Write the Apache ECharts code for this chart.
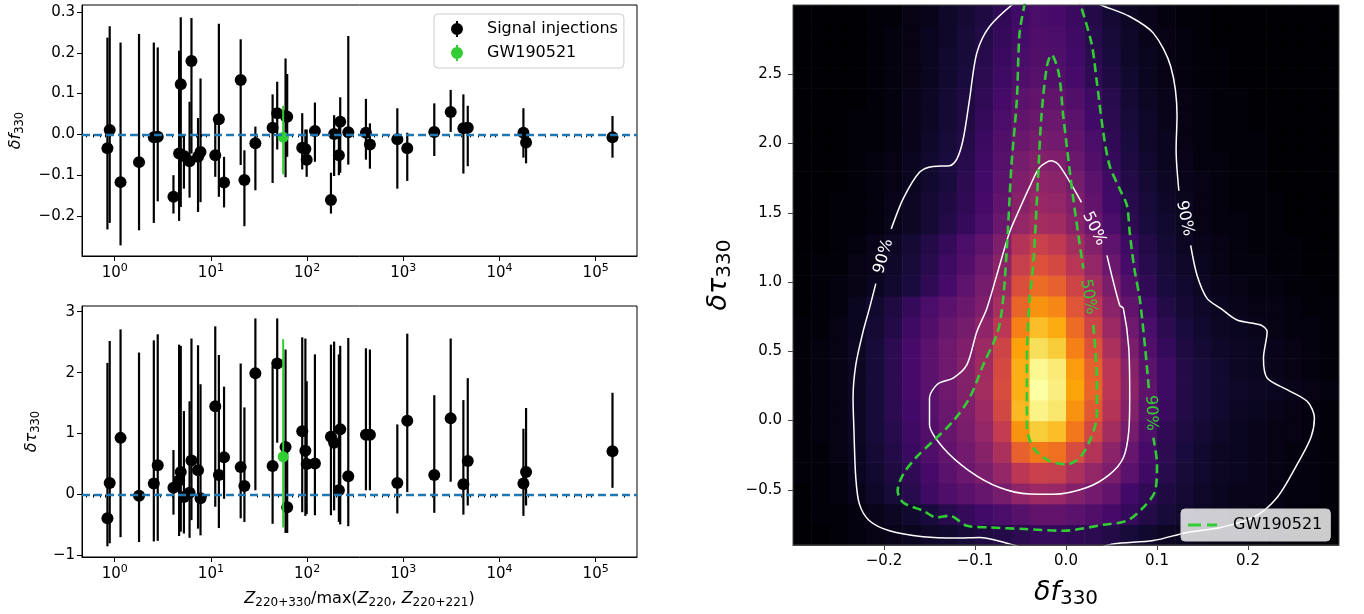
<!DOCTYPE html>
<html><head><meta charset="utf-8">
<script src="https://cdn.jsdelivr.net/npm/echarts@6/dist/echarts.min.js"></script>
<style>html,body{margin:0;padding:0;background:#fff}#c{width:1364px;height:614px}</style>
</head><body><div id="c"></div>
<script>
// ---------------- data: left panels ----------------
const zRatio = [0.84,0.887,1.15,1.79,2.55,2.80,4.08,4.67,4.86,5.24,6.0,6.28,7.35,7.8,11.1,12.1,13.7,20.4,22.3,29.0,43.8,48.9,59.7,62.1,89,96,99,120.6,177,191,214,221,268,409,450,867,1100,2100,3110,4215,4680,17740,18900,149600];
const dfVal = [-0.034,0.011,-0.117,-0.068,-0.007,-0.006,-0.153,-0.047,0.123,-0.053,-0.066,0.18,-0.055,-0.043,-0.051,0.037,-0.118,0.133,-0.112,-0.022,0.016,0.052,0.045,0.043,-0.033,-0.036,-0.062,0.008,-0.161,0.001,-0.051,0.031,0.005,0.004,-0.025,-0.012,-0.034,0.006,0.055,0.015,0.016,0.004,-0.020,-0.007];
const dfLo = [-0.233,-0.217,-0.272,-0.235,-0.217,-0.164,-0.194,-0.212,-0.178,-0.133,-0.155,-0.047,-0.19,-0.166,-0.104,-0.153,-0.179,-0.075,-0.225,-0.137,-0.119,-0.037,-0.105,-0.055,-0.086,-0.075,-0.104,-0.067,-0.194,-0.102,-0.10,-0.094,-0.074,-0.062,-0.084,-0.133,-0.114,-0.053,0.006,-0.096,-0.078,-0.057,-0.071,-0.057];
const dfHi = [0.237,0.265,0.225,0.246,0.225,0.213,-0.100,0.205,0.287,0.0,0.08,0.285,0.04,0.137,0.035,0.271,-0.055,0.233,-0.039,0.019,0.098,0.129,0.186,0.148,0.052,0.012,0.012,0.078,-0.094,0.047,0.03,0.091,0.241,0.087,0.027,0.064,0.004,0.076,0.109,0.098,0.07,0.064,0.002,0.045];
const dtVal = [-0.39,0.19,0.93,-0.02,0.18,0.48,0.11,0.23,0.37,-0.04,0.03,0.56,0.40,-0.06,1.45,0.32,0.61,0.45,0.14,1.99,0.47,2.15,0.78,-0.21,1.04,0.72,0.50,0.51,0.95,0.85,0.07,1.07,0.30,0.98,0.98,0.19,1.21,0.32,1.25,0.17,0.55,0.18,0.37,0.71];
const dtLo = [-0.85,-0.80,-0.70,-0.78,-0.77,-0.76,-0.33,-0.68,-0.61,-0.64,-0.71,-0.42,-0.56,-0.67,-0.20,-0.55,-0.07,-0.39,-0.45,0.07,-0.48,0.85,-0.63,-0.63,-0.29,-0.35,-0.32,-0.34,-0.34,-0.26,-0.45,-0.49,-0.52,0.07,0.07,-0.31,0.04,-0.30,0.21,-0.33,-0.18,-0.35,-0.18,0.11];
const dtHi = [2.16,2.52,2.71,2.33,2.53,2.63,0.73,2.46,2.44,1.37,1.53,2.56,2.45,1.81,2.76,2.29,1.77,2.15,1.43,2.89,2.11,2.89,2.38,0.86,2.58,2.56,1.86,2.30,2.46,2.51,2.30,2.44,2.57,2.40,2.38,1.15,2.64,1.63,2.56,1.55,1.91,1.08,1.42,1.67];
const gwZ = [56.4];
const gwDf = [-0.007], gwDfLo = [-0.098], gwDfHi = [0.070];
const gwDt = [0.62], gwDtLo = [-0.54], gwDtHi = [2.55];
const zTicks = [1, 10, 100, 1000, 10000, 100000];
const dfTicks = [-0.2, -0.1, 0, 0.1, 0.2, 0.3];
const dtTicks = [-1, 0, 1, 2, 3];
// ---------------- data: right panel ----------------
const fCenters = [-0.29,-0.27,-0.25,-0.23,-0.21,-0.19,-0.17,-0.15,-0.13,-0.11,-0.09,-0.07,-0.05,-0.03,-0.01,0.01,0.03,0.05,0.07,0.09,0.11,0.13,0.15,0.17,0.19,0.21,0.23,0.25,0.27,0.29];
const tauCenters = [-0.825,-0.675,-0.525,-0.375,-0.225,-0.075,0.075,0.225,0.375,0.525,0.675,0.825,0.975,1.125,1.275,1.425,1.575,1.725,1.875,2.025,2.175,2.325,2.475,2.625,2.775,2.925];
const density = [
 [0,0,1,2,3,4,5,7,8,10,12,13,15,17,17,16,15,13,10,8,6,5,4,3,3,2,2,1,1,0],
 [0,1,1,2,4,6,8,11,14,17,20,22,25,28,28,26,24,21,17,13,10,8,6,5,4,3,3,2,1,1],
 [0,1,2,4,7,10,14,19,23,26,29,33,39,42,41,36,32,28,20,16,12,9,7,5,4,4,3,2,2,1],
 [1,1,2,5,8,12,16,21,26,30,34,40,50,54,53,46,40,34,26,19,14,10,8,6,5,4,3,2,2,1],
 [1,1,3,5,9,13,18,23,28,32,37,46,64,70,68,58,48,38,29,21,15,11,8,6,5,4,3,2,2,1],
 [1,2,3,6,10,14,19,24,29,34,40,52,76,88,85,70,56,44,33,23,16,12,9,7,5,4,3,3,2,1],
 [1,2,3,6,10,15,20,25,30,35,42,56,84,97,94,76,62,48,36,25,18,13,10,8,6,5,4,3,2,1],
 [1,2,3,6,10,15,21,26,31,36,44,58,82,100,96,80,65,50,38,27,19,13,10,8,7,6,5,4,3,2],
 [1,2,3,6,10,15,21,26,31,36,43,57,82,98,95,78,64,50,37,26,19,13,10,8,6,5,4,3,2,1],
 [1,2,3,6,10,15,21,26,31,35,42,55,79,92,88,72,60,46,34,24,17,12,9,7,6,5,4,3,2,1],
 [1,1,3,5,9,13,19,24,29,33,39,50,72,85,81,67,55,42,31,22,15,11,8,6,5,4,3,2,2,1],
 [0,1,2,5,8,12,17,22,26,30,35,45,65,76,73,61,50,38,28,19,13,9,7,5,4,3,3,2,1,1],
 [0,1,2,3,5,8,11,16,21,27,33,42,59,67,64,55,44,34,24,16,11,8,6,4,3,2,2,1,1,0],
 [0,1,1,3,4,7,10,14,19,24,30,38,53,60,57,49,40,30,21,14,10,7,5,3,2,2,1,1,0,0],
 [0,0,1,2,4,6,9,13,17,22,27,35,48,54,51,44,36,27,19,13,9,6,4,3,2,1,1,1,0,0],
 [0,0,1,1,2,4,6,9,13,17,22,30,40,44,43,37,30,22,15,11,8,5,3,2,2,1,1,0,0,0],
 [0,0,1,1,2,4,6,9,12,16,21,28,37,41,40,35,28,20,14,10,7,5,3,2,1,1,1,0,0,0],
 [0,0,0,1,2,3,5,8,11,15,20,26,35,39,38,33,26,19,13,9,6,4,3,2,1,1,0,0,0,0],
 [0,0,0,1,2,3,5,8,11,14,19,25,33,36,35,30,24,17,12,8,5,4,2,2,1,1,0,0,0,0],
 [0,0,0,1,1,2,4,7,10,13,18,24,30,33,32,28,22,16,11,7,5,3,2,1,1,1,0,0,0,0],
 [0,0,0,1,1,2,4,6,9,12,17,22,28,30,30,26,20,15,10,7,4,3,2,1,1,0,0,0,0,0],
 [0,0,0,0,1,2,4,6,9,12,16,21,26,28,28,24,19,14,9,6,4,3,2,1,1,0,0,0,0,0],
 [0,0,0,0,1,2,3,5,8,11,15,19,23,25,24,21,16,12,8,5,3,2,1,1,0,0,0,0,0,0],
 [0,0,0,0,1,2,3,5,8,10,14,18,22,24,23,20,15,11,7,5,3,2,1,1,0,0,0,0,0,0],
 [0,0,0,0,1,2,3,5,7,10,13,17,21,23,22,19,14,10,7,4,3,2,1,0,0,0,0,0,0,0],
 [0,0,0,0,1,1,3,4,7,9,12,16,20,22,21,18,13,9,6,4,2,1,1,0,0,0,0,0,0,0]
];
const fTicks = [-0.2, -0.1, 0, 0.1, 0.2];
const tauTicks = [-0.5, 0, 0.5, 1, 1.5, 2, 2.5];
// contour paths [f, tau] (segments broken at labels)
const white90 = [
 [[-0.056,3.02],[-0.084,2.845],[-0.098,2.654],[-0.106,2.318],[-0.113,2.031],[-0.12,1.887],[-0.128,1.839],[-0.146,1.835],[-0.161,1.792],[-0.179,1.6],[-0.192,1.384]],
 [[-0.209,0.989],[-0.216,0.81],[-0.223,0.642],[-0.231,0.402],[-0.234,0.163],[-0.233,-0.076],[-0.231,-0.412],[-0.227,-0.603],[-0.216,-0.723],[-0.194,-0.795],[-0.157,-0.838],[-0.12,-0.848],[-0.095,-0.843],[-0.062,-0.89],[-0.03,-0.94],[0.02,-0.94],[0.052,-0.89],[0.096,-0.866],[0.133,-0.807],[0.17,-0.771],[0.206,-0.699],[0.232,-0.555],[0.254,-0.316],[0.269,-0.124],[0.273,0.019],[0.265,0.139],[0.243,0.223],[0.221,0.307],[0.217,0.45],[0.221,0.642],[0.214,0.69],[0.188,0.726],[0.17,0.81],[0.155,0.882],[0.144,1.049],[0.137,1.264]],
 [[0.124,1.659],[0.121,1.959],[0.122,2.198],[0.115,2.558],[0.096,2.797],[0.07,2.917],[0.041,2.993],[0.03,3.02]]
];
const white50 = [
 [[0.017,1.576],[-0.007,1.839],[-0.016,1.875],[-0.029,1.827],[-0.04,1.687],[-0.051,1.528],[-0.062,1.36],[-0.073,1.12],[-0.087,0.81],[-0.098,0.642],[-0.109,0.402],[-0.124,0.307],[-0.141,0.264],[-0.15,0.163],[-0.15,-0.029],[-0.135,-0.196],[-0.106,-0.364],[-0.073,-0.483],[-0.04,-0.53],[-0.014,-0.532],[0.023,-0.483],[0.048,-0.388],[0.063,-0.268],[0.069,-0.076],[0.07,0.163],[0.069,0.522],[0.063,0.81],[0.059,0.833],[0.045,1.193]]
];
const green90 = [
 [[-0.045,3.02],[-0.051,2.797],[-0.054,2.318],[-0.06,1.839],[-0.064,1.36],[-0.069,0.882],[-0.075,0.642],[-0.091,0.402],[-0.106,0.163],[-0.124,-0.004],[-0.146,-0.148],[-0.165,-0.268],[-0.179,-0.388],[-0.185,-0.507],[-0.179,-0.591],[-0.157,-0.651],[-0.142,-0.699],[-0.128,-0.687],[-0.109,-0.759],[-0.084,-0.771],[-0.045,-0.783],[-0.003,-0.795],[0.041,-0.752],[0.067,-0.723],[0.085,-0.627],[0.098,-0.507],[0.1,-0.316],[0.096,-0.124]],
 [[0.091,0.235],[0.087,0.522],[0.081,0.882],[0.075,1.1],[0.07,1.36],[0.067,1.552],[0.059,1.672],[0.048,1.839],[0.041,2.079],[0.034,2.438],[0.028,2.725],[0.015,3.02]]
];
const green50 = [
 [[0.03,0.69],[0.034,0.283],[0.034,0.043],[0.026,-0.148],[0.015,-0.268],[0.001,-0.316],[-0.018,-0.292],[-0.036,-0.196],[-0.043,-0.029],[-0.043,0.402],[-0.04,0.882],[-0.036,1.121],[-0.031,1.72],[-0.027,2.198],[-0.021,2.558],[-0.016,2.641],[-0.008,2.509],[-0.003,2.198],[0.008,1.6],[0.019,1.097]]
];
const contourLabels = [
 {text:'90%', f:-0.2005, tau:1.186},
 {text:'50%', f:0.031, tau:1.385},
 {text:'90%', f:0.1305, tau:1.46},
 {text:'50%', f:0.0245, tau:0.894},
 {text:'90%', f:0.0935, tau:0.055}
];

// ---------------- styling / building ----------------
const FONT = 'DejaVu Sans';
const inferno = ['#000004','#160b39','#420a68','#6a176e','#932667','#bc3754','#dd513a','#f37819','#fca50a','#f6d746','#fcffa4'];
const labelStyles = [
 {color:'#ffffff', rotate:74},
 {color:'#ffffff', rotate:-64},
 {color:'#ffffff', rotate:-78},
 {color:'#32cd32', rotate:-80},
 {color:'#32cd32', rotate:-88}
];
const fmtMinus = s => String(s).replace('-', '\u2212');
const Z_MIN = 0.457, Z_MAX = 2.69e5;
const minorZ = [];
for (let n = -1; n <= 5; n++) for (let k = 2; k <= 9; k++) { const v = k * Math.pow(10, n); if (v > Z_MIN && v < Z_MAX) minorZ.push(v); }

const chart = echarts.init(document.getElementById('c'), null, {renderer: 'canvas'});

function errSeries(name, xi, yi, xs, ys, lo, hi, color, lw, r, z) {
  return {
    type: 'custom', name, xAxisIndex: xi, yAxisIndex: yi, z, silent: true,
    itemStyle: {color},
    data: xs.map((x, i) => [x, ys[i], lo[i], hi[i]]),
    encode: {x: 0, y: [1, 2, 3]},
    renderItem(params, api) {
      const p = api.coord([api.value(0), api.value(1)]);
      const a = api.coord([api.value(0), api.value(2)]);
      const b = api.coord([api.value(0), api.value(3)]);
      return {type: 'group', children: [
        {type: 'line', shape: {x1: a[0], y1: a[1], x2: b[0], y2: b[1]}, style: {stroke: color, lineWidth: lw}},
        {type: 'circle', shape: {cx: p[0], cy: p[1], r}, style: {fill: color}}
      ]};
    }
  };
}

const tickFont = {fontFamily: FONT, fontSize: 15, color: '#000'};
function logXAxis(gi) {
  return {
    type: 'log', logBase: 10, gridIndex: gi, min: Z_MIN, max: Z_MAX, position: 'bottom',
    axisLine: {show: true, onZero: false, lineStyle: {color: '#000', width: 1}},
    axisTick: {show: true, length: 5, lineStyle: {color: '#000'}, customValues: zTicks},
    axisLabel: {
      customValues: zTicks, margin: 7,
      formatter: v => '{b|10}{e|' + Math.round(Math.log10(v)) + '}',
      rich: {b: {fontFamily: FONT, fontSize: 15, color: '#000'}, e: {fontFamily: FONT, fontSize: 11, color: '#000', padding: [0, 0, 9, 0]}}
    },
    splitLine: {show: false}, minorTick: {show: false}
  };
}
function minorXAxis(gi) {
  return {
    type: 'log', logBase: 10, gridIndex: gi, min: Z_MIN, max: Z_MAX, position: 'bottom', offset: 0,
    axisLine: {show: false}, axisLabel: {show: false}, splitLine: {show: false},
    axisTick: {show: true, length: 3, lineStyle: {color: '#000'}, customValues: minorZ}
  };
}
function linY(gi, min, max, ticks, dec, name, gap) {
  return {
    type: 'value', gridIndex: gi, min, max,
    axisLine: {show: true, onZero: false, lineStyle: {color: '#000'}},
    axisTick: {show: true, length: 5, lineStyle: {color: '#000'}, customValues: ticks},
    axisLabel: Object.assign({customValues: ticks, margin: 7, formatter: v => fmtMinus(v.toFixed(dec))}, tickFont),
    splitLine: {show: false},
    name, nameLocation: 'middle', nameGap: gap, nameRotate: 90,
    nameTextStyle: {color: '#000', rich: {
      i: {fontFamily: FONT, fontSize: 16, fontStyle: 'italic', color: '#000'},
      s: {fontFamily: FONT, fontSize: 11.5, color: '#000', padding: [8, 0, 0, 0]}
    }}
  };
}

const heatData = [];
tauCenters.forEach((t, r) => fCenters.forEach((f, c) => heatData.push([f, t, density[r][c]])));
const DX = fCenters[1] - fCenters[0], DY = tauCenters[1] - tauCenters[0];

const series = [];
[0, 1].forEach(i => series.push({
  type: 'line', xAxisIndex: i, yAxisIndex: i, data: [], silent: true, z: 1,
  markLine: {silent: true, symbol: 'none', label: {show: false},
    lineStyle: {color: '#1f77b4', width: 2.4, type: [8, 4], opacity: 1}, data: [{yAxis: 0}]}
}));
series.push(errSeries('Signal injections', 0, 0, zRatio, dfVal, dfLo, dfHi, '#000000', 2.2, 6, 2));
series.push(errSeries('GW190521', 0, 0, gwZ, gwDf, gwDfLo, gwDfHi, '#32cd32', 2, 5.5, 3));
series.push(errSeries('Signal injections', 1, 1, zRatio, dtVal, dtLo, dtHi, '#000000', 2.2, 6, 2));
series.push(errSeries('GW190521', 1, 1, gwZ, gwDt, gwDtLo, gwDtHi, '#32cd32', 2, 5.5, 3));
const heatIdx = series.length;
series.push({
  type: 'custom', xAxisIndex: 2, yAxisIndex: 2, data: heatData, z: 1, silent: true, clip: true,
  encode: {x: 0, y: 1},
  renderItem(params, api) {
    const x = api.value(0), y = api.value(1);
    const p1 = api.coord([x - DX / 2, y + DY / 2]);
    const p2 = api.coord([x + DX / 2, y - DY / 2]);
    return {type: 'rect', shape: {x: p1[0], y: p1[1], width: p2[0] - p1[0] + 0.6, height: p2[1] - p1[1] + 0.6},
      style: {fill: api.visual('color')}};
  }
});
function contour(segs, name, color, width, type) {
  segs.forEach(seg => series.push({
    type: 'line', name, xAxisIndex: 2, yAxisIndex: 2, data: seg, symbol: 'none', showSymbol: false,
    smooth: 0.3, z: 3, silent: true, clip: true,
    lineStyle: {color, width, type}, itemStyle: {color}
  }));
}
contour(white90, 'w90', '#ffffff', 1.5, 'solid');
contour(white50, 'w50', '#ffffff', 1.5, 'solid');
contour(green90, 'GW190521', '#32cd32', 2.6, [9, 5]);
contour(green50, 'GW190521', '#32cd32', 2.6, [9, 5]);
// contour labels drawn with a custom series (coordinates through the axes)
series.push({
  type: 'custom', xAxisIndex: 2, yAxisIndex: 2, z: 4, silent: true,
  data: contourLabels.map(l => [l.f, l.tau]),
  encode: {x: 0, y: 1},
  renderItem(params, api) {
    const i = params.dataIndex;
    const p = api.coord([api.value(0), api.value(1)]);
    const st = labelStyles[i];
    return {type: 'text', x: p[0], y: p[1], rotation: st.rotate * Math.PI / 180,
      style: {text: contourLabels[i].text, fill: st.color, font: '16px "DejaVu Sans"',
        align: 'center', verticalAlign: 'middle', opacity: 1}};
  }
});

const legIcon = 'path://M5,0 L7,0 L7,2.5 L5,2.5 Z M5,13.5 L7,13.5 L7,16 L5,16 Z M0,8 A6,6 0 1,1 12,8 A6,6 0 1,1 0,8 Z';
const dashIcon = 'path://M0,0 L13,0 L13,3 L0,3 Z M19,0 L29,0 L29,3 L19,3 Z';

const option = {
  animation: false,
  backgroundColor: '#ffffff',
  grid: [
    {left: 82, top: 5, width: 555, height: 251, show: true, borderColor: '#000', borderWidth: 1, backgroundColor: 'transparent'},
    {left: 82, top: 306, width: 555, height: 251, show: true, borderColor: '#000', borderWidth: 1, backgroundColor: 'transparent'},
    {left: 793, top: 5, width: 546, height: 543, show: true, borderColor: '#444', borderWidth: 1, backgroundColor: 'transparent', z: 5}
  ],
  xAxis: [
    logXAxis(0),
    Object.assign(logXAxis(1), {
      name: '{z|Z}{s|220+330}{n|/max(}{z|Z}{s|220}{n|, }{z|Z}{s|220+221}{n|)}',
      nameLocation: 'middle', nameGap: 32,
      nameTextStyle: {rich: {
        z: {fontFamily: FONT, fontSize: 16, fontStyle: 'italic', color: '#000'},
        n: {fontFamily: FONT, fontSize: 16, color: '#000'},
        s: {fontFamily: FONT, fontSize: 12, color: '#000', padding: [8, 0, 0, 0]}
      }}
    }),
    {
      type: 'value', gridIndex: 2, min: -0.3, max: 0.3,
      axisLine: {show: true, onZero: false, lineStyle: {color: '#444'}},
      axisTick: {show: true, length: 5, lineStyle: {color: '#444'}, customValues: fTicks},
      axisLabel: Object.assign({customValues: fTicks, margin: 9, formatter: v => fmtMinus(v.toFixed(1))}, tickFont),
      splitLine: {show: false},
      name: '{i|δf}{s|330}', nameLocation: 'middle', nameGap: 32,
      nameTextStyle: {rich: {
        i: {fontFamily: FONT, fontSize: 27, fontStyle: 'italic', color: '#000'},
        s: {fontFamily: FONT, fontSize: 20, color: '#000', padding: [12, 0, 0, 0]}
      }}
    },
    minorXAxis(0), minorXAxis(1)
  ],
  yAxis: [
    linY(0, -0.298, 0.317, dfTicks, 1, '{i|δf}{s|330}', 56),
    linY(1, -1.025, 3.094, dtTicks, 0, '{i|δτ}{s|330}', 40),
    {
      type: 'value', gridIndex: 2, min: -0.898, max: 3.0,
      axisLine: {show: true, onZero: false, lineStyle: {color: '#444'}},
      axisTick: {show: true, length: 5, lineStyle: {color: '#444'}, customValues: tauTicks},
      axisLabel: Object.assign({customValues: tauTicks, margin: 11, formatter: v => fmtMinus(v.toFixed(1))}, tickFont),
      splitLine: {show: false},
      name: '{i|δτ}{s|330}', nameLocation: 'middle', nameGap: 58, nameRotate: 90,
      nameTextStyle: {rich: {
        i: {fontFamily: FONT, fontSize: 27, fontStyle: 'italic', color: '#000'},
        s: {fontFamily: FONT, fontSize: 20, color: '#000', padding: [12, 0, 0, 0]}
      }}
    }
  ],
  visualMap: [{
    type: 'continuous', show: false, min: 0, max: 100, dimension: 2, seriesIndex: heatIdx,
    inRange: {color: inferno}
  }],
  legend: [
    {
      data: [{name: 'Signal injections', icon: legIcon}, {name: 'GW190521', icon: legIcon}],
      left: 434, top: 14, orient: 'vertical', padding: [7, 6, 7, 17], itemGap: 8,
      itemWidth: 12, itemHeight: 16, selectedMode: false,
      backgroundColor: 'rgba(255,255,255,0.8)', borderColor: '#cccccc', borderWidth: 1, borderRadius: 4,
      textStyle: {fontFamily: FONT, fontSize: 16, color: '#000', padding: [0, 0, 0, 19]}
    },
    {
      data: [{name: 'GW190521', icon: dashIcon}],
      left: 1181, top: 509, padding: [8, 8, 8, 7], itemWidth: 29, itemHeight: 14, selectedMode: false,
      backgroundColor: 'rgba(255,255,255,0.8)', borderColor: '#cccccc', borderWidth: 1, borderRadius: 4,
      textStyle: {fontFamily: FONT, fontSize: 16, color: '#000', padding: [0, 0, 0, 11]},
      z: 10
    }
  ],
  series
};
chart.setOption(option);
</script>
</body></html>
